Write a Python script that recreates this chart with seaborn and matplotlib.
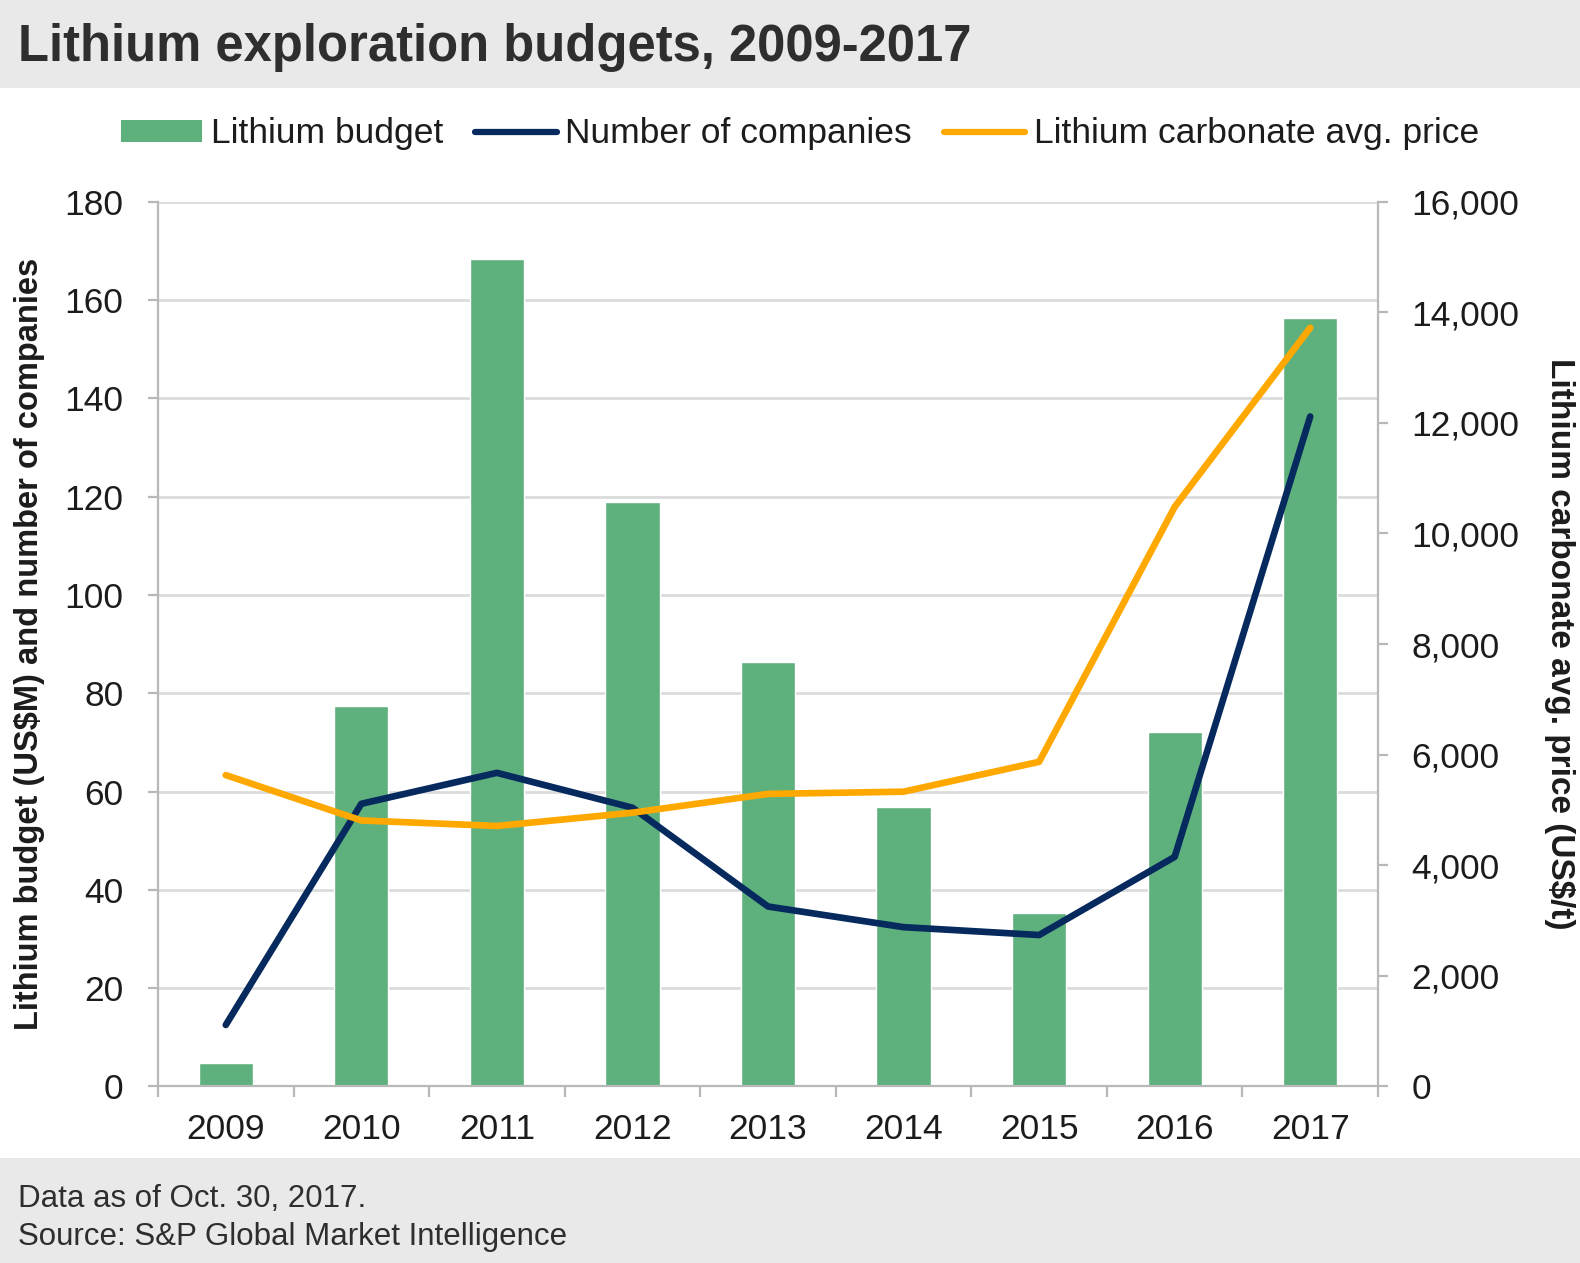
import matplotlib
matplotlib.use("Agg")
import numpy as np
import pandas as pd
import seaborn as sns
import matplotlib.pyplot as plt
from matplotlib.patches import Patch, Rectangle
from matplotlib.lines import Line2D
from matplotlib.ticker import FuncFormatter

# ---- data ----
years = ["2009", "2010", "2011", "2012", "2013", "2014", "2015", "2016", "2017"]
budget = [4.8, 77.4, 168.3, 118.9, 86.4, 56.9, 35.3, 72.2, 156.3]
companies = [12.5, 57.5, 63.8, 56.7, 36.6, 32.4, 30.8, 46.7, 136.3]
price = [5630, 4810, 4710, 4950, 5290, 5330, 5870, 10480, 13720]

left_ticks = [0, 20, 40, 60, 80, 100, 120, 140, 160, 180]
right_ticks = [0, 2000, 4000, 6000, 8000, 10000, 12000, 14000, 16000]

title = "Lithium exploration budgets, 2009-2017"
legend_labels = ["Lithium budget", "Number of companies", "Lithium carbonate avg. price"]
ylabel_left = "Lithium budget (US$M) and number of companies"
ylabel_right = "Lithium carbonate avg. price (US$/t)"
footer1 = "Data as of Oct. 30, 2017."
footer2 = "Source: S&P Global Market Intelligence"

GREEN = "#5eb17d"
NAVY = "#06295e"
ORANGE = "#ffa800"
GRID = "#dcdcdc"
SPINE = "#b8b8b8"
BAND = "#e9e9e9"
TXT = "#1c1c1c"

df = pd.DataFrame({"year": years, "budget": budget,
                   "companies": companies, "price": price})

sns.set_theme(style="ticks")
plt.rcParams["font.family"] = ["Liberation Sans", "DejaVu Sans"]

W, H = 1580, 1263
fig = plt.figure(figsize=(W / 100, H / 100), dpi=100)
fig.patch.set_facecolor("white")
fig.patches.append(Rectangle((0, 1 - 88 / H), 1, 88 / H, transform=fig.transFigure,
                             facecolor=BAND, edgecolor="none", zorder=0))
fig.patches.append(Rectangle((0, 0), 1, (H - 1158) / H, transform=fig.transFigure,
                             facecolor=BAND, edgecolor="none", zorder=0))

ax_l, ax_r, ax_t, ax_b = 158 / W, 1378 / W, 1 - 201.7 / H, 1 - 1086.4 / H
ax = fig.add_axes([ax_l, ax_b, ax_r - ax_l, ax_t - ax_b])
ax.set_facecolor("none")

sns.barplot(data=df, x="year", y="budget", color=GREEN, saturation=1,
            width=0.4, ax=ax, errorbar=None, zorder=2)
sns.pointplot(data=df, x="year", y="companies", color=NAVY, markers="",
              linewidth=4.8, ax=ax, errorbar=None, zorder=3)

ax2 = ax.twinx()
sns.pointplot(data=df, x="year", y="price", color=ORANGE, markers="",
              linewidth=4.8, ax=ax2, errorbar=None, zorder=3)

# axes limits / ticks
ax.set_xlim(-0.5, len(years) - 0.5)
ax.set_ylim(0, 180)
ax2.set_ylim(0, 16000)
ax.set_yticks(left_ticks)
ax2.set_yticks(right_ticks)
ax2.yaxis.set_major_formatter(FuncFormatter(lambda v, p: f"{v:,.0f}"))

ax.set_xticks(range(len(years)))
ax.set_xticklabels(years)
ax.set_xticks(np.arange(-0.5, len(years), 1.0), minor=True)

ax.yaxis.grid(True, color=GRID, lw=2.0)
ax.set_axisbelow(True)

for a in (ax, ax2):
    for s in a.spines.values():
        s.set_visible(False)
ax.spines["left"].set_visible(True)
ax.spines["bottom"].set_visible(True)
ax2.spines["right"].set_visible(True)
for s in (ax.spines["left"], ax.spines["bottom"], ax2.spines["right"]):
    s.set_color(SPINE)
    s.set_linewidth(1.6)

ax.tick_params(axis="x", which="major", length=0, pad=19, labelsize=25.5, labelcolor=TXT)
ax.tick_params(axis="x", which="minor", length=8, width=1.6, color=SPINE, direction="out")
ax.tick_params(axis="y", which="major", left=True, length=7, width=1.6, color=SPINE,
               pad=18, labelsize=25.5, labelcolor=TXT)
ax2.tick_params(axis="y", which="major", right=True, length=7, width=1.6, color=SPINE,
                pad=17, labelsize=25.5, labelcolor=TXT)

ax.set_xlabel("")
ax.set_ylabel(ylabel_left, fontsize=23.5, fontweight="bold", color=TXT)
ax.yaxis.set_label_coords((45 - 158) / (1378 - 158), 0.5)
ax2.set_ylabel(ylabel_right, fontsize=24, fontweight="bold", color=TXT,
               rotation=270, va="center")
ax2.yaxis.set_label_coords((1560 - 158) / (1378 - 158), 0.5)

# legend
handles = [Patch(facecolor=GREEN, edgecolor="none"),
           Line2D([], [], color=NAVY, lw=4.5),
           Line2D([], [], color=ORANGE, lw=4.5)]
fig.legend(handles, legend_labels, loc="center", bbox_to_anchor=(800 / W, 1 - 134 / H),
           ncol=3, frameon=False, fontsize=25.5, handlelength=2.3, handleheight=0.55,
           handletextpad=0.25, columnspacing=0.9, labelcolor=TXT)

# title / footer
fig.text(18 / W, 1 - 48 / H, title, fontsize=36.5, fontweight="bold", color="#2e2e2e",
         ha="left", va="center")
fig.text(18 / W, 1 - 1199 / H, footer1, fontsize=22.5, color="#2e2e2e", ha="left", va="center")
fig.text(18 / W, 1 - 1237 / H, footer2, fontsize=22.5, color="#2e2e2e", ha="left", va="center")

fig.savefig("out.png", dpi=100, facecolor=fig.get_facecolor())
